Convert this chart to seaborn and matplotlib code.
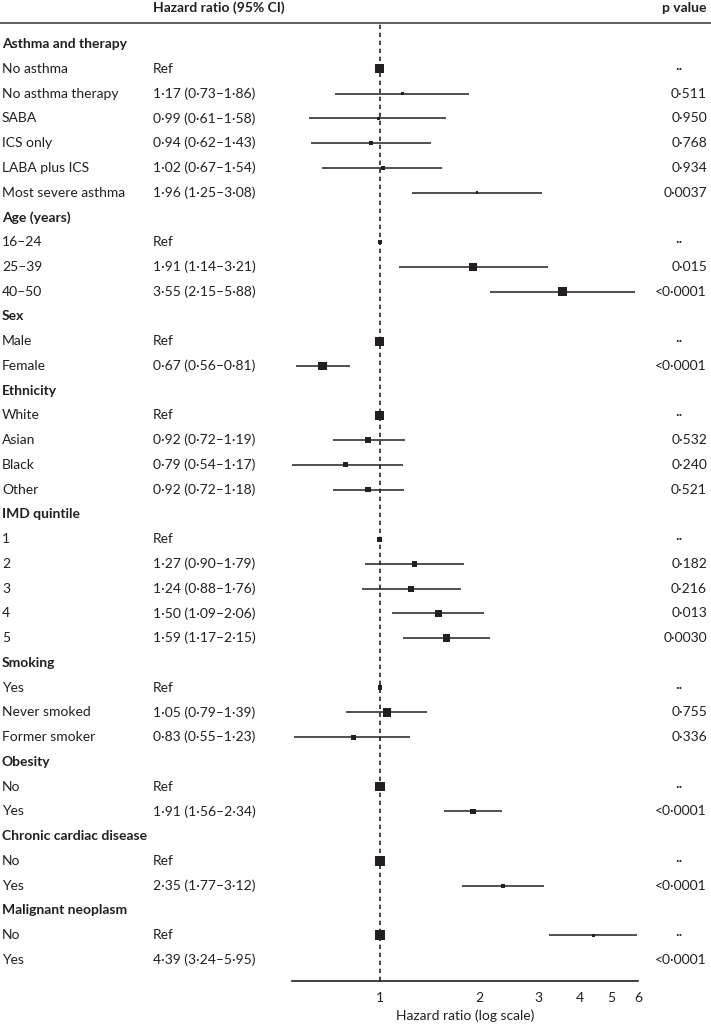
import numpy as np
import pandas as pd
import matplotlib
matplotlib.use("Agg")
import matplotlib.pyplot as plt
import matplotlib.transforms as mtransforms
import seaborn as sns

# -----------------------------
# Data
# -----------------------------
sections = ["Asthma and therapy", "Age (years)", "Sex", "Ethnicity", "IMD quintile",
            "Smoking", "Obesity", "Chronic cardiac disease", "Malignant neoplasm"]

section_items = [
    ["No asthma", "No asthma therapy", "SABA", "ICS only", "LABA plus ICS", "Most severe asthma"],
    ["16–24", "25–39", "40–50"],
    ["Male", "Female"],
    ["White", "Asian", "Black", "Other"],
    ["1", "2", "3", "4", "5"],
    ["Yes", "Never smoked", "Former smoker"],
    ["No", "Yes"],
    ["No", "Yes"],
    ["No", "Yes"],
]

hr = [1.00, 1.17, 0.99, 0.94, 1.02, 1.96,
      1.00, 1.91, 3.55,
      1.00, 0.67,
      1.00, 0.92, 0.79, 0.92,
      1.00, 1.27, 1.24, 1.50, 1.59,
      1.00, 1.05, 0.83,
      1.00, 1.91,
      1.00, 2.35,
      1.00, 4.39]
ci_low = [np.nan, 0.73, 0.61, 0.62, 0.67, 1.25,
          np.nan, 1.14, 2.15,
          np.nan, 0.56,
          np.nan, 0.72, 0.54, 0.72,
          np.nan, 0.90, 0.88, 1.09, 1.17,
          np.nan, 0.79, 0.55,
          np.nan, 1.56,
          np.nan, 1.77,
          np.nan, 3.24]
ci_high = [np.nan, 1.86, 1.58, 1.43, 1.54, 3.08,
           np.nan, 3.21, 5.88,
           np.nan, 0.81,
           np.nan, 1.19, 1.17, 1.18,
           np.nan, 1.79, 1.76, 2.06, 2.15,
           np.nan, 1.39, 1.23,
           np.nan, 2.34,
           np.nan, 3.12,
           np.nan, 5.95]
# box side (px) = study weight as drawn in the figure
box_weight = [9, 3.5, 3, 4, 4, 2.5,
              4, 7.5, 9,
              9, 8.5,
              9, 6, 5, 5.5,
              5, 5.5, 6, 7, 7.5,
              4.5, 8.5, 5,
              9.5, 5.5,
              10, 4,
              10, 3]
hr_text = ["Ref", "1·17 (0·73–1·86)", "0·99 (0·61–1·58)", "0·94 (0·62–1·43)",
           "1·02 (0·67–1·54)", "1·96 (1·25–3·08)",
           "Ref", "1·91 (1·14–3·21)", "3·55 (2·15–5·88)",
           "Ref", "0·67 (0·56–0·81)",
           "Ref", "0·92 (0·72–1·19)", "0·79 (0·54–1·17)", "0·92 (0·72–1·18)",
           "Ref", "1·27 (0·90–1·79)", "1·24 (0·88–1·76)", "1·50 (1·09–2·06)", "1·59 (1·17–2·15)",
           "Ref", "1·05 (0·79–1·39)", "0·83 (0·55–1·23)",
           "Ref", "1·91 (1·56–2·34)",
           "Ref", "2·35 (1·77–3·12)",
           "Ref", "4·39 (3·24–5·95)"]
p_text = ["··", "0·511", "0·950", "0·768", "0·934", "0·0037",
          "··", "0·015", "<0·0001",
          "··", "<0·0001",
          "··", "0·532", "0·240", "0·521",
          "··", "0·182", "0·216", "0·013", "0·0030",
          "··", "0·755", "0·336",
          "··", "<0·0001",
          "··", "<0·0001",
          "··", "<0·0001"]
# the original draws the last CI one row too high (on the "No" row)
drawn_row_above = [False] * 28 + [True]

x_ticks = [1, 2, 3, 4, 5, 6]

# -----------------------------
# Build row table
# -----------------------------
rows = []
k = 0
for sec, items in zip(sections, section_items):
    rows.append(dict(label=sec, header=True))
    for it in items:
        rows.append(dict(label=it, header=False, hr=hr[k], lo=ci_low[k], hi=ci_high[k],
                         w=box_weight[k], hr_txt=hr_text[k], p=p_text[k],
                         up=drawn_row_above[k]))
        k += 1
df = pd.DataFrame(rows)
df["row"] = np.arange(len(df))
est = df[~df["header"]].copy()
est["plot_row"] = est["row"] - est["up"].astype(int)
est["area"] = (est["w"].astype(float) * 0.72) ** 2

# -----------------------------
# Plot
# -----------------------------
sns.set_style("white")
plt.rcParams["font.family"] = ["Lato", "DejaVu Sans"]
ink = "#231f20"

fig = plt.figure(figsize=(7.11, 10.30), dpi=100)
ax = fig.add_axes([292 / 711, 1 - 981 / 1030, (638 - 292) / 711, (981 - 24) / 1030])

n = len(df)
ax.hlines(est["plot_row"], est["lo"], est["hi"], color=ink, lw=1.1, zorder=2)
ax.axvline(1, color=ink, lw=1.2, ls=(0, (2.6, 2.2)), zorder=1)
sns.scatterplot(data=est, x="hr", y="plot_row", size="area",
                sizes=(est["area"].min(), est["area"].max()),
                size_norm=(est["area"].min(), est["area"].max()),
                marker="s", color=ink, edgecolor="none", legend=False, ax=ax, zorder=3)

ax.set_xscale("log")
ax.set_xlim(0.543, 6.0)
ax.set_ylim(n - 1 + 0.85, -0.81)
ax.set_xticks(x_ticks)
ax.set_xticklabels([str(t) for t in x_ticks])
ax.xaxis.set_minor_locator(matplotlib.ticker.NullLocator())
ax.set_yticks([])
ax.set_ylabel("")
ax.set_xlabel("Hazard ratio (log scale)", fontsize=10, color=ink, labelpad=4)
ax.tick_params(axis="x", direction="out", length=5, width=1.1, color=ink,
               labelsize=10, labelcolor=ink, pad=3)
for s in ["top", "left", "right"]:
    ax.spines[s].set_visible(False)
ax.spines["bottom"].set_color(ink)
ax.spines["bottom"].set_linewidth(1.2)

# text columns: x in figure fraction, y in data rows
tr = mtransforms.blended_transform_factory(fig.transFigure, ax.transData)
fs = 10
for _, r in df.iterrows():
    if r["header"]:
        ax.text(2 / 711, r["row"], r["label"], transform=tr, fontsize=fs,
                fontweight="bold", color=ink, va="center", ha="left", clip_on=False)
    else:
        ax.text(2 / 711, r["row"], r["label"], transform=tr, fontsize=fs,
                color=ink, va="center", ha="left", clip_on=False)
        ax.text(153 / 711, r["row"], r["hr_txt"], transform=tr, fontsize=fs,
                color=ink, va="center", ha="left", clip_on=False)
        if r["p"] == "··":
            ax.text(679 / 711, r["row"], r["p"], transform=tr, fontsize=fs,
                    color=ink, va="center", ha="center", clip_on=False)
        else:
            ax.text(707 / 711, r["row"], r["p"], transform=tr, fontsize=fs,
                    color=ink, va="center", ha="right", clip_on=False)

# column headers and rule
fig.text(153 / 711, 1 - 8 / 1030, "Hazard ratio (95% CI)", fontsize=fs, fontweight="bold",
         color=ink, va="center", ha="left")
fig.text(707 / 711, 1 - 8 / 1030, "p value", fontsize=fs, fontweight="bold",
         color=ink, va="center", ha="right")
fig.add_artist(plt.Line2D([0, 1], [1 - 22.5 / 1030] * 2, transform=fig.transFigure,
                          color="#555555", lw=1.3))

fig.savefig("out.png", dpi=100)
